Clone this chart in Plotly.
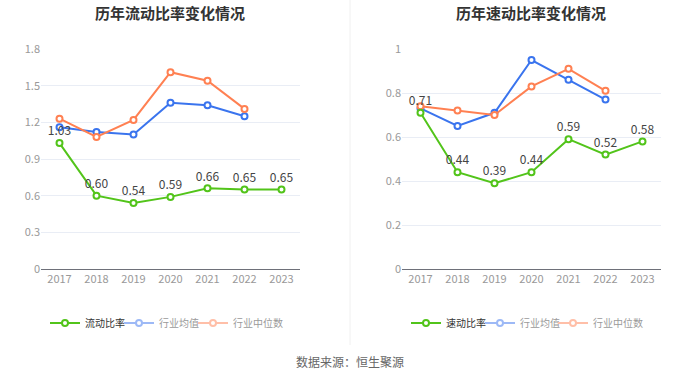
import plotly.graph_objects as go

years = ["2017", "2018", "2019", "2020", "2021", "2022", "2023"]

# 流动比率 chart
current_ratio = [1.03, 0.60, 0.54, 0.59, 0.66, 0.65, 0.65]
current_ind_mean = [1.16, 1.12, 1.10, 1.36, 1.34, 1.25, None]
current_ind_median = [1.23, 1.08, 1.22, 1.61, 1.54, 1.31, None]

# 速动比率 chart
quick_ratio = [0.71, 0.44, 0.39, 0.44, 0.59, 0.52, 0.58]
quick_ind_mean = [0.73, 0.65, 0.71, 0.95, 0.86, 0.77, None]
quick_ind_median = [0.74, 0.72, 0.70, 0.83, 0.91, 0.81, None]

left_ticks = [0, 0.3, 0.6, 0.9, 1.2, 1.5, 1.8]
left_ticklabels = ["0", "0.3", "0.6", "0.9", "1.2", "1.5", "1.8"]
right_ticks = [0, 0.2, 0.4, 0.6, 0.8, 1.0]
right_ticklabels = ["0", "0.2", "0.4", "0.6", "0.8", "1"]

GREEN = "#52C41A"
BLUE = "#3A74EE"
ORANGE = "#FF8052"
BLUE_L = "#9DB9F6"
ORANGE_L = "#FFBFA8"
FONT = "Noto Sans CJK SC, Noto Sans, sans-serif"

fig = go.Figure()


def mk(color):
    return dict(symbol="circle", size=6, color="white", line=dict(color=color, width=2))


def add_series(xa, ya, legs, main_name, main_vals, mean_vals, median_vals):
    fig.add_trace(go.Scatter(
        x=years, y=mean_vals, name="行业均值", showlegend=False,
        mode="lines+markers", xaxis=xa, yaxis=ya,
        line=dict(color=BLUE, width=2), marker=mk(BLUE), hoverinfo="skip"))
    fig.add_trace(go.Scatter(
        x=years, y=median_vals, name="行业中位数", showlegend=False,
        mode="lines+markers", xaxis=xa, yaxis=ya,
        line=dict(color=ORANGE, width=2), marker=mk(ORANGE), hoverinfo="skip"))
    fig.add_trace(go.Scatter(
        x=years, y=main_vals, name=main_name,
        mode="lines+markers+text", xaxis=xa, yaxis=ya, legend=legs[0],
        text=[f"{v:.2f}" for v in main_vals], textposition="top center",
        textfont=dict(size=12, color="#444", family=FONT),
        line=dict(color=GREEN, width=2), marker=mk(GREEN), hoverinfo="skip"))
    # legend-only entries (faded like the reference legend)
    fig.add_trace(go.Scatter(
        x=[None], y=[None], name="<span style='color:#9a9a9a'>行业均值</span>",
        mode="lines+markers", xaxis=xa, yaxis=ya, legend=legs[1],
        line=dict(color=BLUE_L, width=2), marker=mk(BLUE_L), hoverinfo="skip"))
    fig.add_trace(go.Scatter(
        x=[None], y=[None], name="<span style='color:#9a9a9a'>行业中位数</span>",
        mode="lines+markers", xaxis=xa, yaxis=ya, legend=legs[2],
        line=dict(color=ORANGE_L, width=2), marker=mk(ORANGE_L), hoverinfo="skip"))


add_series("x", "y", ["legend", "legend2", "legend3"], "流动比率",
           current_ratio, current_ind_mean, current_ind_median)
add_series("x2", "y2", ["legend4", "legend5", "legend6"], "速动比率",
           quick_ratio, quick_ind_mean, quick_ind_median)

ydom = [1 - 269 / 378, 1 - 49 / 378]
xcommon = dict(type="category", range=[-0.5, 6.5], showgrid=False, showline=True,
               linecolor="#6E7079", linewidth=1, ticks="", zeroline=False, automargin=False,
               tickfont=dict(size=11, color="#999", family=FONT))
ycommon = dict(showgrid=True, gridcolor="#E9EDF5", gridwidth=1, showline=False, automargin=False,
               zeroline=False, ticks="", tickfont=dict(size=11, color="#999", family=FONT),
               domain=ydom)

legcommon = dict(orientation="h", y=1 - 323 / 378, yanchor="middle", xanchor="left",
                 font=dict(size=10, color="#333", family=FONT), itemwidth=30,
                 bgcolor="rgba(0,0,0,0)", borderwidth=0)

# text start pixel positions of the legend entries in the reference
leg_text_x = [84, 158, 232, 445, 519, 592]
leg_layout = {}
for i, tx in enumerate(leg_text_x):
    key = "legend" if i == 0 else f"legend{i + 1}"
    leg_layout[key] = dict(legcommon, x=(tx - 39) / 700)

fig.update_layout(
    width=700, height=378, autosize=False,
    margin=dict(l=0, r=0, t=0, b=0, pad=0, autoexpand=False),
    paper_bgcolor="white", plot_bgcolor="white",
    font=dict(family=FONT),
    showlegend=True,
    xaxis=dict(xcommon, domain=[41 / 700, 300 / 700], anchor="y"),
    yaxis=dict(ycommon, range=[0, 1.8], tickvals=left_ticks, ticktext=left_ticklabels, anchor="x"),
    xaxis2=dict(xcommon, domain=[402 / 700, 661 / 700], anchor="y2"),
    yaxis2=dict(ycommon, range=[0, 1.0], tickvals=right_ticks, ticktext=right_ticklabels, anchor="x2"),
    annotations=[
        dict(text="<b>历年流动比率变化情况</b>", x=170 / 700, y=1 - 12 / 378, xref="paper", yref="paper",
             showarrow=False, font=dict(size=15, color="#333", family=FONT), xanchor="center", yanchor="middle"),
        dict(text="<b>历年速动比率变化情况</b>", x=531 / 700, y=1 - 12 / 378, xref="paper", yref="paper",
             showarrow=False, font=dict(size=15, color="#333", family=FONT), xanchor="center", yanchor="middle"),
        dict(text="数据来源：恒生聚源", x=0.5, y=1 - 361 / 378, xref="paper", yref="paper",
             showarrow=False, font=dict(size=12, color="#666", family=FONT), xanchor="center", yanchor="middle"),
    ],
    shapes=[dict(type="line", xref="paper", yref="paper", x0=0.5, x1=0.5, y0=1 - 345 / 378, y1=1,
                 line=dict(color="#F0F0F0", width=1))],
    **leg_layout,
)

fig.write_html("out.html", config={"displayModeBar": False},
               post_script="document.body.style.margin='0';document.body.style.overflow='hidden';")
